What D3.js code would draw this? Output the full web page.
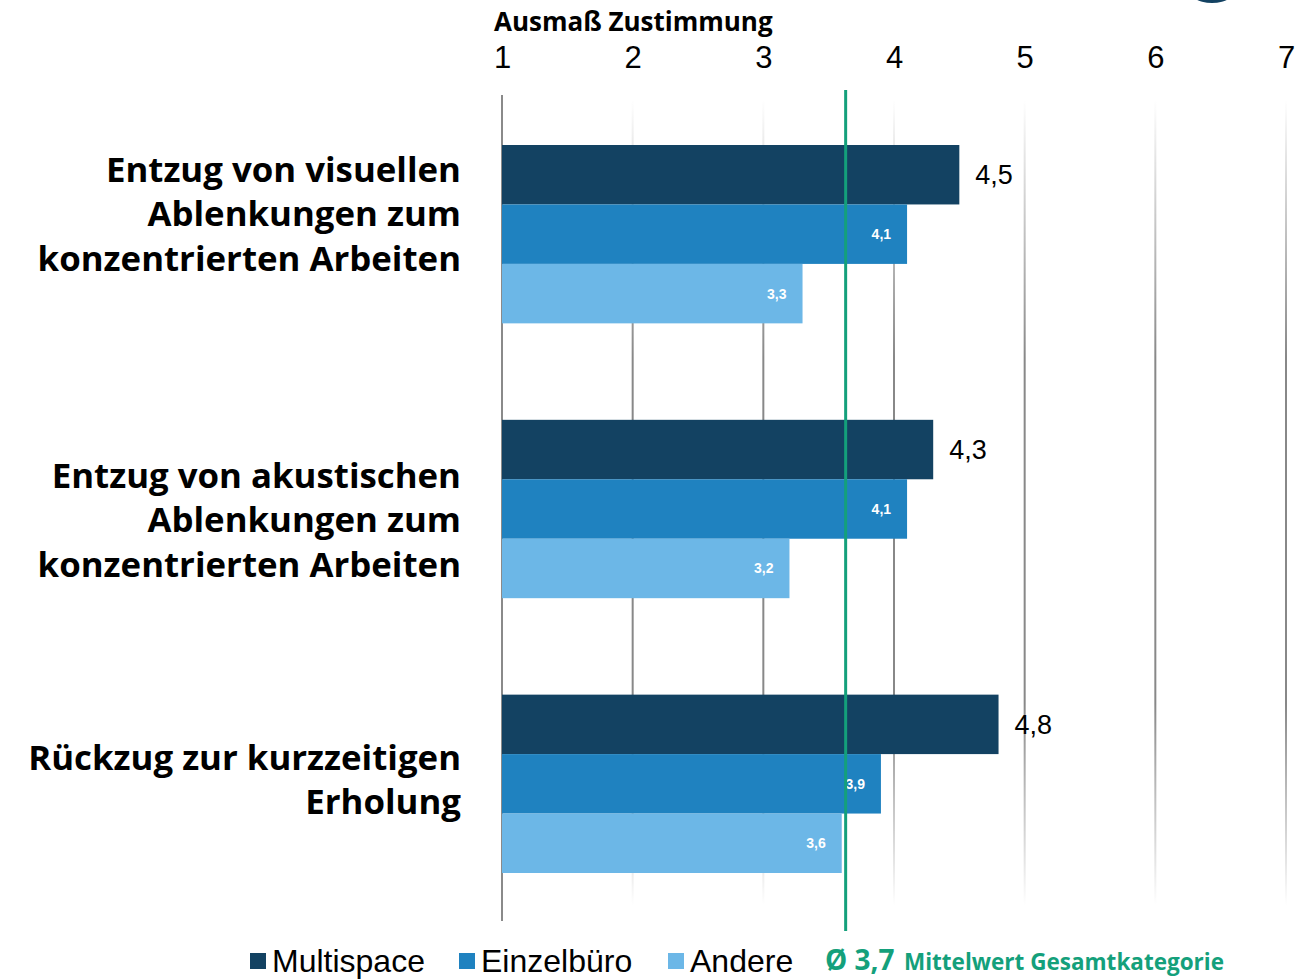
<!DOCTYPE html>
<html>
<head>
<meta charset="utf-8">
<script src="https://cdn.jsdelivr.net/npm/d3@7"></script>
<style>
  body { margin: 0; background: #fff; }
  svg { display: block; }
</style>
</head>
<body>
<div id="chart"></div>
<script>
// chart data
var categories = [
  ["Entzug von visuellen", "Ablenkungen zum", "konzentrierten Arbeiten"],
  ["Entzug von akustischen", "Ablenkungen zum", "konzentrierten Arbeiten"],
  ["Rückzug zur kurzzeitigen", "Erholung"]
];
var seriesNames = ["Multispace", "Einzelbüro", "Andere"];
var multispace = [4.5, 4.3, 4.8];
var einzelbuero = [4.1, 4.1, 3.9];
var andere = [3.3, 3.2, 3.6];
var ticks = [1, 2, 3, 4, 5, 6, 7];
var meanValue = 3.63;       // where the green line sits
var meanLabel = "Ø 3,7";
var axisTitle = "Ausmaß Zustimmung";

var colors = ["#134262", "#1f82c0", "#6cb7e7"];
var green = "#14a07b";

var width = 1314, height = 979;
var svg = d3.select("#chart").append("svg")
    .attr("width", width)
    .attr("height", height);

var defs = svg.append("defs");
var grad = defs.append("linearGradient")
    .attr("id", "gridfade")
    .attr("x1", 0).attr("y1", 0).attr("x2", 0).attr("y2", 1);
grad.append("stop").attr("offset", "0%").attr("stop-color", "#888").attr("stop-opacity", 0);
grad.append("stop").attr("offset", "32%").attr("stop-color", "#888").attr("stop-opacity", 1);
grad.append("stop").attr("offset", "75%").attr("stop-color", "#888").attr("stop-opacity", 1);
grad.append("stop").attr("offset", "100%").attr("stop-color", "#888").attr("stop-opacity", 0);

// scales
var x = d3.scaleLinear().domain([1, 7]).range([502, 1286]);
var y = d3.scaleBand().domain(d3.range(categories.length))
    .range([145, 873]).paddingInner(0.351).paddingOuter(0);
var ySub = d3.scaleBand().domain(d3.range(seriesNames.length))
    .range([0, y.bandwidth()]);

var series = [multispace, einzelbuero, andere];

// logo remnant top right
svg.append("ellipse")
    .attr("cx", 1212).attr("cy", -14)
    .attr("rx", 26).attr("ry", 17)
    .attr("fill", "#134262");

// gridlines (faded)
svg.append("g").selectAll("rect")
  .data(ticks.slice(1))
  .join("rect")
    .attr("x", function(d) { return x(d) - 1; })
    .attr("y", 100)
    .attr("width", 2)
    .attr("height", 805)
    .attr("fill", "url(#gridfade)");

// axis line at 1
svg.append("line")
    .attr("x1", x(1)).attr("x2", x(1))
    .attr("y1", 95).attr("y2", 921)
    .attr("stroke", "#8a8a8a")
    .attr("stroke-width", 2);

// top axis tick labels
var axisTop = d3.axisTop(x).tickValues(ticks).tickSize(0).tickPadding(0)
    .tickFormat(d3.format("d"));
var ag = svg.append("g").attr("transform", "translate(0,68)").call(axisTop);
ag.select(".domain").remove();
ag.selectAll("text")
    .attr("font-family", "Liberation Sans, Arial, sans-serif")
    .attr("font-size", 31)
    .attr("fill", "#000")
    .attr("dy", 0);

svg.append("text")
    .attr("x", 494).attr("y", 31)
    .attr("font-family", "Open Sans, sans-serif")
    .attr("font-weight", 700)
    .attr("font-size", 26)
    .attr("fill", "#000")
    .text(axisTitle);

// bars
var groups = svg.append("g").selectAll("g")
  .data(categories)
  .join("g")
    .attr("transform", function(d, i) { return "translate(0," + y(i) + ")"; });

groups.each(function(cat, ci) {
  var g = d3.select(this);
  series.forEach(function(vals, si) {
    var v = vals[ci];
    var by = ySub(si);
    var bh = ySub.bandwidth();
    g.append("rect")
        .attr("x", x(1))
        .attr("y", by)
        .attr("width", x(v) - x(1))
        .attr("height", bh)
        .attr("fill", colors[si]);
    var label = d3.format(".1f")(v).replace(".", ",");
    if (si === 0) {
      g.append("text")
          .attr("x", x(v) + 16)
          .attr("y", by + bh / 2)
          .attr("dy", "0.35em")
          .attr("font-family", "Liberation Sans, Arial, sans-serif")
          .attr("font-size", 27)
          .attr("fill", "#000")
          .text(label);
    } else {
      g.append("text")
          .attr("x", x(v) - 16)
          .attr("y", by + bh / 2)
          .attr("dy", "0.35em")
          .attr("text-anchor", "end")
          .attr("font-family", "Liberation Sans, Arial, sans-serif")
          .attr("font-weight", 700)
          .attr("font-size", 14)
          .attr("fill", "#fff")
          .text(label);
    }
  });
});

// mean line
svg.append("line")
    .attr("x1", x(meanValue)).attr("x2", x(meanValue))
    .attr("y1", 90).attr("y2", 931)
    .attr("stroke", green)
    .attr("stroke-width", 3);

// category labels
var labelNudge = [-20, 11, -4];
var lineH = 44.5;
categories.forEach(function(lines, ci) {
  var cy = y(ci) + y.bandwidth() / 2 + labelNudge[ci];
  var t = svg.append("text")
      .attr("text-anchor", "end")
      .attr("font-family", "Open Sans, sans-serif")
      .attr("font-weight", 700)
      .attr("font-size", 34.8)
      .attr("fill", "#000");
  lines.forEach(function(line, li) {
    t.append("tspan")
        .attr("x", 461)
        .attr("y", cy + (li - (lines.length - 1) / 2) * lineH)
        .attr("dy", "0.35em")
        .text(line);
  });
});

// legend
var legendX = [250, 459, 668];
var legend = svg.append("g");
seriesNames.forEach(function(name, i) {
  legend.append("rect")
      .attr("x", legendX[i]).attr("y", 953)
      .attr("width", 16).attr("height", 16)
      .attr("fill", colors[i]);
  legend.append("text")
      .attr("x", legendX[i] + 22).attr("y", 972)
      .attr("font-family", "Liberation Sans, Arial, sans-serif")
      .attr("font-size", 32)
      .attr("fill", "#000")
      .text(name);
});
legend.append("text")
    .attr("x", 825).attr("y", 970)
    .attr("font-family", "Open Sans, sans-serif")
    .attr("font-weight", 700)
    .attr("font-size", 28)
    .attr("fill", green)
    .text(meanLabel);
legend.append("text")
    .attr("x", 904).attr("y", 970)
    .attr("font-family", "Open Sans, sans-serif")
    .attr("font-weight", 700)
    .attr("font-size", 22.5)
    .attr("fill", green)
    .text("Mittelwert Gesamtkategorie");
</script>
</body>
</html>
